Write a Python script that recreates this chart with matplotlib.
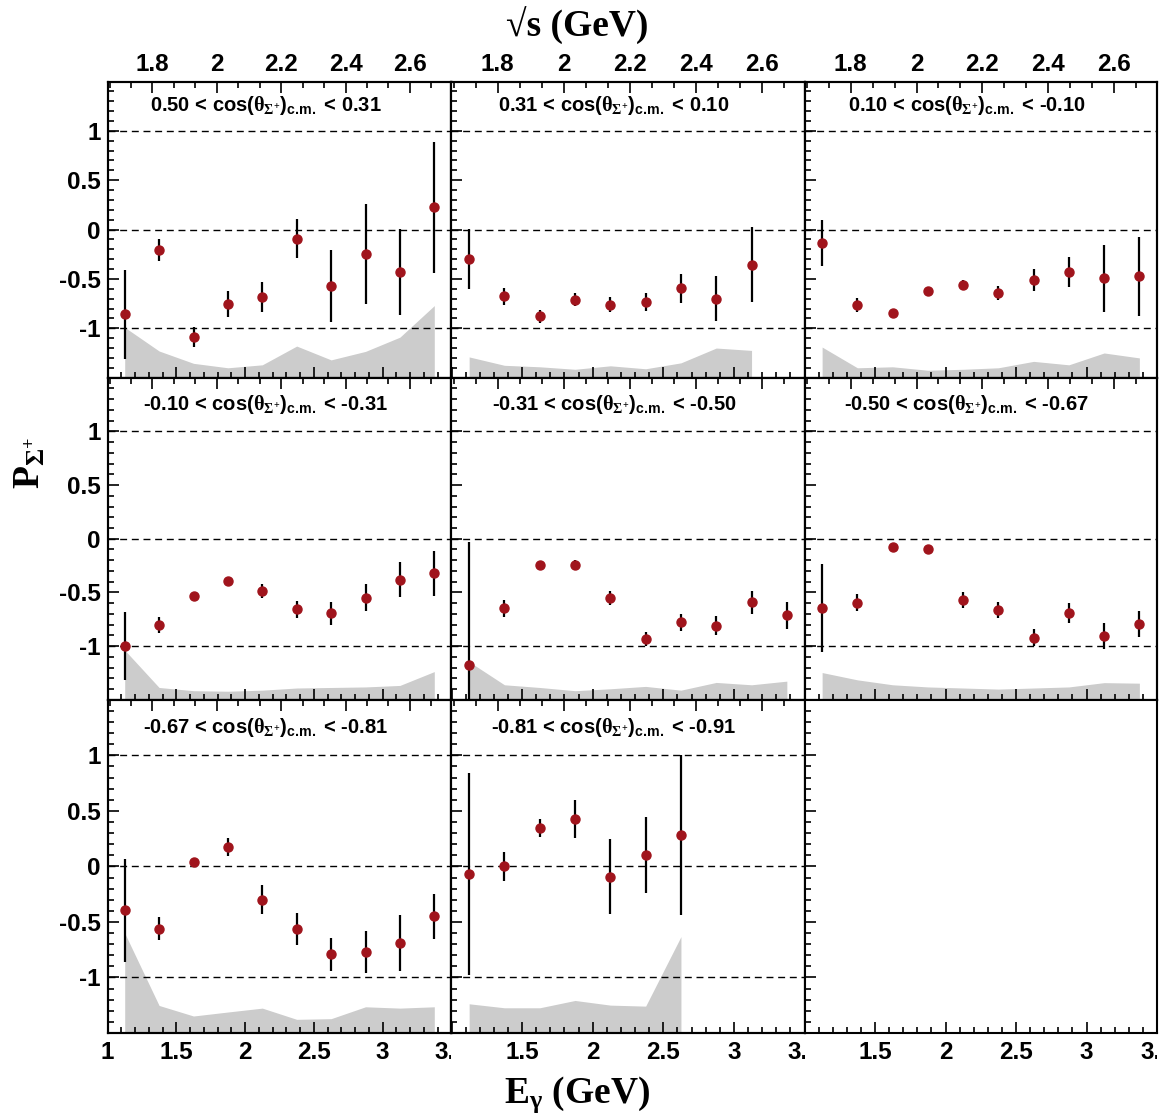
import matplotlib
matplotlib.use("Agg")
import matplotlib.pyplot as plt
from matplotlib.ticker import MultipleLocator, FixedLocator, FuncFormatter
from matplotlib.transforms import Bbox, TransformedBbox, ScaledTranslation
import numpy as np

# ---------------------------------------------------------------------------
# Data: Sigma+ polarisation vs photon energy, 8 cos bins
# ---------------------------------------------------------------------------
E_GAMMA = [1.125, 1.375, 1.625, 1.875, 2.125, 2.375, 2.625, 2.875, 3.125, 3.375]

COS_LO = ["0.50", "0.31", "0.10", "-0.10", "-0.31", "-0.50", "-0.67", "-0.81"]
COS_HI = ["0.31", "0.10", "-0.10", "-0.31", "-0.50", "-0.67", "-0.81", "-0.91"]

POL = [
    [-0.856, -0.204, -1.087, -0.756, -0.682, -0.094, -0.569, -0.247, -0.431, 0.224],
    [-0.298, -0.676, -0.880, -0.709, -0.763, -0.732, -0.595, -0.699, -0.355],
    [-0.137, -0.763, -0.846, -0.625, -0.565, -0.639, -0.508, -0.431, -0.495, -0.472],
    [-1.000, -0.806, -0.532, -0.391, -0.486, -0.658, -0.695, -0.548, -0.382, -0.320],
    [-1.180, -0.646, -0.243, -0.243, -0.551, -0.935, -0.778, -0.809, -0.591, -0.711],
    [-0.646, -0.594, -0.077, -0.095, -0.572, -0.665, -0.923, -0.692, -0.905, -0.797],
    [-0.396, -0.563, 0.036, 0.173, -0.298, -0.563, -0.793, -0.769, -0.689, -0.450],
    [-0.069, 0.000, 0.343, 0.429, -0.092, 0.101, 0.280],
]

STAT = [
    [0.45, 0.11, 0.105, 0.13, 0.155, 0.197, 0.363, 0.503, 0.433, 0.664],
    [0.30, 0.087, 0.063, 0.07, 0.075, 0.09, 0.15, 0.224, 0.383],
    [0.23, 0.07, 0.03, 0.045, 0.05, 0.072, 0.11, 0.155, 0.34, 0.40],
    [0.32, 0.075, 0.02, 0.03, 0.065, 0.077, 0.105, 0.126, 0.162, 0.21],
    [1.15, 0.08, 0.02, 0.045, 0.065, 0.065, 0.08, 0.09, 0.108, 0.125],
    [0.41, 0.077, 0.02, 0.02, 0.075, 0.075, 0.078, 0.095, 0.125, 0.12],
    [0.465, 0.103, 0.04, 0.082, 0.133, 0.145, 0.149, 0.188, 0.249, 0.20],
    [0.91, 0.131, 0.08, 0.172, 0.34, 0.344, 0.72],
]

# systematic uncertainty, drawn as a band from the bottom of each panel
SYS = [
    [0.51, 0.27, 0.145, 0.10, 0.13, 0.32, 0.18, 0.266, 0.41, 0.73],
    [0.21, 0.125, 0.11, 0.085, 0.12, 0.09, 0.15, 0.30, 0.276],
    [0.31, 0.10, 0.11, 0.075, 0.085, 0.10, 0.165, 0.13, 0.25, 0.20],
    [0.463, 0.115, 0.085, 0.08, 0.09, 0.11, 0.115, 0.12, 0.134, 0.263],
    [0.355, 0.14, 0.115, 0.085, 0.103, 0.125, 0.09, 0.162, 0.14, 0.174],
    [0.254, 0.186, 0.14, 0.12, 0.11, 0.10, 0.11, 0.12, 0.16, 0.155],
    [0.90, 0.248, 0.153, 0.189, 0.224, 0.123, 0.129, 0.236, 0.224, 0.236],
    [0.263, 0.227, 0.227, 0.293, 0.251, 0.242, 0.868],
]

M_P = 0.93827
E_MIN, E_MAX = 1.0, 3.5
Y_MIN, Y_MAX = -1.5, 1.5

COR_PONTO = "#a0141c"
COR_BANDA = "#cccccc"
TAM_TICK = 17.5

plt.rcParams["font.family"] = "Liberation Sans"
plt.rcParams["font.weight"] = "bold"
plt.rcParams["axes.unicode_minus"] = False
plt.rcParams["mathtext.fontset"] = "custom"
plt.rcParams["mathtext.rm"] = "Liberation Serif"
plt.rcParams["mathtext.it"] = "Liberation Serif"
plt.rcParams["mathtext.bf"] = "Liberation Sans:bold"


def w_cm(e):
    return np.sqrt(M_P ** 2 + 2 * M_P * e)


W, H = 1166, 1117
fig = plt.figure(figsize=(W / 100, H / 100), dpi=100)
gs = fig.add_gridspec(3, 3, left=107.5 / W, right=1157 / W,
                      top=1 - 81.5 / H, bottom=1 - 1033 / H,
                      hspace=0, wspace=0,
                      height_ratios=[296, 322, 333],
                      width_ratios=[344, 353, 352.5])

fmt = FuncFormatter(lambda v, p: f"{v:g}")

for k in range(9):
    r, c = divmod(k, 3)
    ax = fig.add_subplot(gs[r, c])
    ax.set_xlim(E_MIN, E_MAX)
    ax.set_ylim(Y_MIN, Y_MAX)
    for s in ax.spines.values():
        s.set_linewidth(1.5)

    ax.yaxis.set_major_locator(FixedLocator([-1, -0.5, 0, 0.5, 1]))
    ax.yaxis.set_minor_locator(MultipleLocator(0.1))
    ax.yaxis.set_major_formatter(fmt)
    ax.xaxis.set_major_locator(MultipleLocator(0.5))
    ax.xaxis.set_minor_locator(MultipleLocator(0.1))
    if c == 0:
        ax.xaxis.set_major_formatter(FuncFormatter(
            lambda v, p: "" if v > 3.2 else f"{v:g}"))
    else:
        ax.xaxis.set_major_formatter(FuncFormatter(
            lambda v, p: "" if (v > 3.2 or v < 1.2) else f"{v:g}"))

    ax.tick_params(which="both", direction="in", top=False, right=False,
                   labelsize=TAM_TICK, width=1.2)
    ax.tick_params(which="major", length=8)
    ax.tick_params(which="minor", length=4)
    ax.tick_params(axis="x", pad=6, labelbottom=(r == 2))
    ax.tick_params(axis="y", pad=5, labelleft=(c == 0))

    if r == 2:
        # last label sits on the panel border and gets cut by the next pad
        trans = ax.get_xaxis_transform() + ScaledTranslation(0, -6 / 72, fig.dpi_scale_trans)
        t = fig.text(E_MAX, 0, "3.5", transform=trans, ha="center", va="top",
                     fontsize=TAM_TICK, weight="bold")
        x1 = ax.get_position().x1
        t.set_clip_box(TransformedBbox(Bbox.from_extents(0, 0, x1, 1), fig.transFigure))
        t.set_clip_on(True)

    if k < 8:
        top = ax.twiny()
        top.set_xlim(w_cm(E_MIN), w_cm(E_MAX))
        top.xaxis.set_major_locator(MultipleLocator(0.2))
        top.xaxis.set_minor_locator(MultipleLocator(0.2 / 3))
        top.xaxis.set_major_formatter(fmt)
        top.tick_params(which="both", direction="in", top=True, bottom=False,
                        labeltop=(r == 0), labelbottom=False, labelsize=TAM_TICK,
                        width=1.2, pad=4)
        top.tick_params(which="major", length=8)
        top.tick_params(which="minor", length=4)
        for s in top.spines.values():
            s.set_linewidth(1.5)

        n = len(POL[k])
        x = E_GAMMA[:n]
        banda = [Y_MIN + s for s in SYS[k]]
        ax.fill_between(x, Y_MIN, banda, color=COR_BANDA, lw=0, zorder=1)
        for yref in (-1, 0, 1):
            ax.axhline(yref, color="black", lw=1.0, dashes=(5, 3.4), zorder=2)
        ax.errorbar(x, POL[k], yerr=STAT[k], fmt="none", ecolor="black",
                    elinewidth=1.6, capsize=0, zorder=3)
        ax.plot(x, POL[k], "o", ms=6.5, color=COR_PONTO, mec=COR_PONTO, zorder=4)

        rotulo = (f"{COS_LO[k]} < cos($\\theta_{{\\Sigma^{{+}}}}$)"
                  f"$_{{\\mathbf{{c.\\!m.}}}}$ < {COS_HI[k]}")
        ax.text(0.46, 1.2, rotulo, transform=ax.get_yaxis_transform(),
                ha="center", va="baseline", fontsize=14.5, weight="bold")

fig.text(577 / W, 1 - 37 / H, "\u221as (GeV)", ha="center", va="baseline",
         family="Liberation Serif", weight="bold", fontsize=27)
fig.text(577 / W, 1 - 1103 / H, "E$_{\\gamma}$ (GeV)", ha="center", va="baseline",
         family="Liberation Serif", weight="bold", fontsize=27)
fig.text(30 / W, 1 - 463 / H, "P$_{\\Sigma^{+}}$", ha="center", va="center",
         rotation=90, family="Liberation Serif", weight="bold", fontsize=27)

fig.savefig("out.png", dpi=100, facecolor="white")
